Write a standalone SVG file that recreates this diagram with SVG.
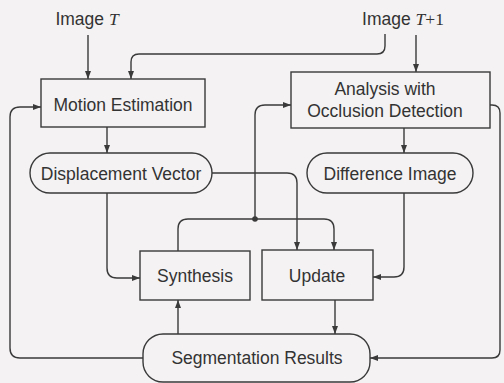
<svg xmlns="http://www.w3.org/2000/svg" width="504" height="383" viewBox="0 0 504 383">
<defs>
<marker id="ah" markerWidth="8" markerHeight="6" refX="8" refY="3" orient="auto" markerUnits="userSpaceOnUse">
<path d="M0,0 L8,3 L0,6 z" fill="#3a3a3a"/>
</marker>
<style>
.box{fill:none;stroke:#3a3a3a;stroke-width:1.4}
.ln{fill:none;stroke:#3a3a3a;stroke-width:1.4}
.ar{marker-end:url(#ah)}
text{font-family:"Liberation Sans",Arial,sans-serif;font-size:17.5px;fill:#333;text-anchor:middle}
.it{font-family:"Liberation Serif","Times New Roman",serif;font-style:italic}
.sf{font-family:"Liberation Serif","Times New Roman",serif}
</style>
</defs>
<rect width="504" height="383" fill="#f4f2f3"/>
<g id="connectors">
<path class="ln ar" d="M88 35 V79"/>
<path class="ln ar" d="M416 35 V72"/>
<path class="ln ar" d="M385 34 V46 Q385 54 377 54 H139 Q131 54 131 62 V79"/>
<path class="ln ar" d="M107 127 V153"/>
<path class="ln ar" d="M404 128 V153"/>
<path class="ln ar" d="M107 193 V268 Q107 278 117 278 H140"/>
<path class="ln ar" d="M212 173 H287 Q297 173 297 183 V250"/>
<path class="ln ar" d="M404 193 V267 Q404 277 394 277 H373"/>
<path class="ln" d="M178 251 V229 Q178 219 188 219 H255"/>
<path class="ln ar" d="M255 219 H324 Q334 219 334 229 V250"/>
<path class="ln ar" d="M255 219 V115 Q255 105 265 105 H291"/>
<circle cx="255" cy="219" r="2.8" fill="#3a3a3a"/>
<path class="ln ar" d="M335 300 V334"/>
<path class="ln ar" d="M178 334 V300"/>
<path class="ln ar" d="M143 358 H20 Q10 358 10 348 V117 Q10 107 20 107 H41"/>
<path class="ln ar" d="M490 105 H492 Q500 105 500 113 V350 Q500 358 492 358 H370"/>
</g>
<g id="imageT"><text x="87" y="25">Image <tspan class="it">T</tspan></text></g>
<g id="imageT1"><text x="403" y="25">Image <tspan class="it">T</tspan><tspan class="sf">+1</tspan></text></g>
<g id="motion">
<rect class="box" x="41" y="79" width="164" height="48"/>
<text x="123" y="111">Motion Estimation</text>
</g>
<g id="analysis">
<rect class="box" x="291" y="72" width="199" height="56"/>
<text x="385" y="95">Analysis with</text>
<text x="385" y="117">Occlusion Detection</text>
</g>
<g id="displacement">
<rect class="box" x="30" y="153" width="182" height="40" rx="20"/>
<text x="121" y="180">Displacement Vector</text>
</g>
<g id="difference">
<rect class="box" x="307" y="153" width="166" height="40" rx="20"/>
<text x="390" y="180">Difference Image</text>
</g>
<g id="synthesis">
<rect class="box" x="140" y="251" width="110" height="49"/>
<text x="195" y="282">Synthesis</text>
</g>
<g id="update">
<rect class="box" x="262" y="250" width="111" height="50"/>
<text x="317" y="282">Update</text>
</g>
<g id="segmentation">
<rect class="box" x="143" y="334" width="227" height="48" rx="20"/>
<text x="257" y="364">Segmentation Results</text>
</g>
</svg>
